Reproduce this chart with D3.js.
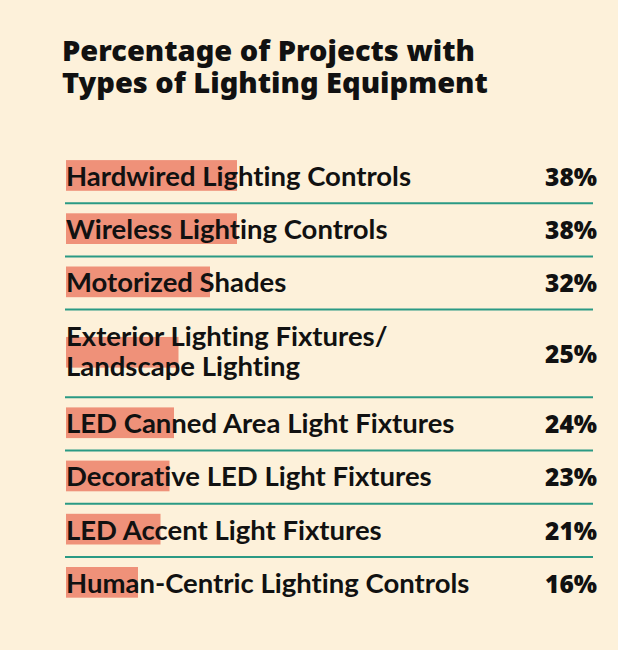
<!DOCTYPE html>
<html><head><meta charset="utf-8">
<script src="https://cdn.jsdelivr.net/npm/d3@7"></script>
<style>
html,body{margin:0;padding:0;background:#fdf1da;}
svg{display:block;}
text{font-variant-ligatures:none;}
</style></head>
<body>
<svg id="chart" width="618" height="650"></svg>
<script>
const titleLines = ["Percentage of Projects with", "Types of Lighting Equipment"];
const categories = [
  ["Hardwired Lighting Controls"],
  ["Wireless Lighting Controls"],
  ["Motorized Shades"],
  ["Exterior Lighting Fixtures/", "Landscape Lighting"],
  ["LED Canned Area Light Fixtures"],
  ["Decorative LED Light Fixtures"],
  ["LED Accent Light Fixtures"],
  ["Human-Centric Lighting Controls"]
];
const values = [38, 38, 32, 25, 24, 23, 21, 16];
const valueLabels = ["38%", "38%", "32%", "25%", "24%", "23%", "21%", "16%"];

const svg = d3.select("#chart");
const W = 618, H = 650;
svg.append("rect").attr("width", W).attr("height", H).attr("fill", "#fdf1da");

const left = 66, right = 593, labelRight = 597;
const singleH = 53.2, extraLineH = 34.5;
const x = d3.scaleLinear().domain([0, 100]).range([left, left + 450]);

// title (one text element, two lines)
svg.append("text")
  .attr("font-family", "'Noto Sans', sans-serif").attr("font-weight", 900)
  .attr("font-size", 29).attr("fill", "#111")
  .selectAll("tspan").data(titleLines).join("tspan")
  .attr("x", 62).attr("y", (d, i) => 61 + i * 31.5)
  .text(d => d);

// rows
const rows = [];
let yCursor = 150;
categories.forEach((c, i) => {
  const h = singleH + (c.length - 1) * extraLineH;
  rows.push({lines: c, v: values[i], lbl: valueLabels[i], top: yCursor, h});
  yCursor += h;
});

const g = svg.append("g");
const row = g.selectAll("g.row").data(rows).join("g").attr("class", "row");

row.append("rect")
  .attr("x", x(0))
  .attr("y", d => d.top + d.h / 2 - 16.5)
  .attr("width", d => x(d.v) - x(0))
  .attr("height", 30.7)
  .attr("fill", "#ef9179");

row.each(function(d) {
  const sel = d3.select(this);
  const n = d.lines.length;
  const c = d.top + d.h / 2;
  sel.selectAll("text.lab").data(d.lines).join("text").attr("class", "lab")
    .attr("x", left)
    .attr("y", (t, j) => n === 1 ? c + 9.3 : c + 7.5 + (j - (n - 1) / 2) * 30)
    .attr("font-family", "Lato, sans-serif").attr("font-weight", 700)
    .attr("font-size", 27.5).attr("fill", "#111").text(t => t);
  sel.append("text")
    .attr("x", labelRight).attr("y", c + 9.3)
    .attr("text-anchor", "end")
    .attr("font-family", "'Noto Sans', sans-serif").attr("font-weight", 900)
    .attr("font-size", 24.5).attr("fill", "#111").text(d.lbl);
});

row.filter((d, i) => i < rows.length - 1).append("line")
  .attr("x1", left - 1).attr("x2", right)
  .attr("y1", d => d.top + d.h).attr("y2", d => d.top + d.h)
  .attr("stroke", "#2a9a84").attr("stroke-width", 2);
</script>
</body></html>
